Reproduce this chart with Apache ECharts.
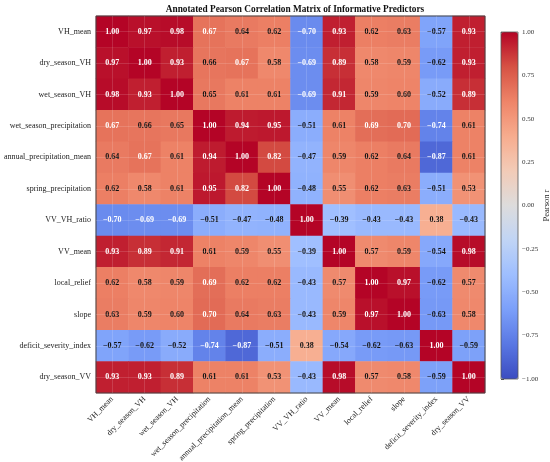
<!DOCTYPE html>
<html>
<head>
<meta charset="utf-8">
<script src="https://cdn.jsdelivr.net/npm/echarts@6/dist/echarts.min.js"></script>
<style>
  html, body { margin: 0; padding: 0; background: #fff; }
  #chart { width: 550px; height: 462px; }
</style>
</head>
<body>
<div id="chart"></div>
<script>
// predictors, same order on both axes
const predictors = [
  'VH_mean', 'dry_season_VH', 'wet_season_VH', 'wet_season_precipitation',
  'annual_precipitation_mean', 'spring_precipitation', 'VV_VH_ratio', 'VV_mean',
  'local_relief', 'slope', 'deficit_severity_index', 'dry_season_VV'
];

// correlation rows
const rVH_mean      = [1.00, 0.97, 0.98, 0.67, 0.64, 0.62, -0.70, 0.93, 0.62, 0.63, -0.57, 0.93];
const rDryVH        = [0.97, 1.00, 0.93, 0.66, 0.67, 0.58, -0.69, 0.89, 0.58, 0.59, -0.62, 0.93];
const rWetVH        = [0.98, 0.93, 1.00, 0.65, 0.61, 0.61, -0.69, 0.91, 0.59, 0.60, -0.52, 0.89];
const rWetPrecip    = [0.67, 0.66, 0.65, 1.00, 0.94, 0.95, -0.51, 0.61, 0.69, 0.70, -0.74, 0.61];
const rAnnualPrecip = [0.64, 0.67, 0.61, 0.94, 1.00, 0.82, -0.47, 0.59, 0.62, 0.64, -0.87, 0.61];
const rSpringPrecip = [0.62, 0.58, 0.61, 0.95, 0.82, 1.00, -0.48, 0.55, 0.62, 0.63, -0.51, 0.53];
const rRatio        = [-0.70, -0.69, -0.69, -0.51, -0.47, -0.48, 1.00, -0.39, -0.43, -0.43, 0.38, -0.43];
const rVV_mean      = [0.93, 0.89, 0.91, 0.61, 0.59, 0.55, -0.39, 1.00, 0.57, 0.59, -0.54, 0.98];
const rRelief       = [0.62, 0.58, 0.59, 0.69, 0.62, 0.62, -0.43, 0.57, 1.00, 0.97, -0.62, 0.57];
const rSlope        = [0.63, 0.59, 0.60, 0.70, 0.64, 0.63, -0.43, 0.59, 0.97, 1.00, -0.63, 0.58];
const rDeficit      = [-0.57, -0.62, -0.52, -0.74, -0.87, -0.51, 0.38, -0.54, -0.62, -0.63, 1.00, -0.59];
const rDryVV        = [0.93, 0.93, 0.89, 0.61, 0.61, 0.53, -0.43, 0.98, 0.57, 0.58, -0.59, 1.00];

const rows = [rVH_mean, rDryVH, rWetVH, rWetPrecip, rAnnualPrecip, rSpringPrecip,
              rRatio, rVV_mean, rRelief, rSlope, rDeficit, rDryVV];

// matplotlib coolwarm
const coolwarm = ['#3b4cc0', '#5977e3', '#7b9ff9', '#9ebeff', '#c0d4f5', '#dddcdc',
                  '#f2cbb7', '#f7ac8e', '#ee8468', '#d65244', '#b40426'];

const SERIF = '"Liberation Serif", "Times New Roman", serif';
const fmt = v => (v < 0 ? '\u2212' : '') + Math.abs(v).toFixed(2);

const cells = [];
rows.forEach((row, i) => {
  row.forEach((v, j) => {
    cells.push({
      value: [j, i, v],
      label: { color: Math.abs(v) > 0.665 ? '#ffffff' : '#111111' }
    });
  });
});

// faint grid lines through the cell centres (matplotlib default grid)
const centreLines = predictors.map(p => ({ xAxis: p }))
  .concat(predictors.map(p => ({ yAxis: p })));

const chart = echarts.init(document.getElementById('chart'));
chart.setOption({
  animation: false,
  backgroundColor: '#fff',
  title: {
    text: 'Annotated Pearson Correlation Matrix of Informative Predictors',
    left: 290, top: 0, textAlign: 'center',
    textStyle: { fontFamily: SERIF, fontSize: 9.3, fontWeight: 'bold', color: '#111' }
  },
  grid: [
    { left: 96, top: 16, width: 389, height: 377, outerBoundsMode: 'none', containLabel: false,
      show: true, borderColor: '#444', borderWidth: 1, z: 5, backgroundColor: 'transparent' },
    { left: 501, top: 32, width: 17, height: 347, outerBoundsMode: 'none', containLabel: false,
      show: true, borderColor: '#555', borderWidth: 0.8, z: 10, backgroundColor: 'transparent' }
  ],
  xAxis: [
    {
      type: 'category', data: predictors, gridIndex: 0,
      axisLine: { show: false },
      axisTick: { alignWithLabel: true, length: 3, lineStyle: { color: '#444' } },
      axisLabel: { rotate: 45, fontFamily: SERIF, fontSize: 8, color: '#222', margin: 5, interval: 0 },
      splitLine: { show: false }
    },
    { type: 'value', gridIndex: 1, show: false, min: 0, max: 1 }
  ],
  yAxis: [
    {
      type: 'category', data: predictors, gridIndex: 0, inverse: true,
      axisLine: { show: false },
      axisTick: { alignWithLabel: true, length: 3, lineStyle: { color: '#444' } },
      axisLabel: { fontFamily: SERIF, fontSize: 8, color: '#222', margin: 5, interval: 0 },
      splitLine: { show: false }
    },
    {
      type: 'value', gridIndex: 1, position: 'right', min: -1, max: 1, interval: 0.25,
      axisLine: { show: false },
      axisTick: { show: true, length: 3, lineStyle: { color: '#555' } },
      axisLabel: { fontFamily: SERIF, fontSize: 7, color: '#333', margin: 4, formatter: fmt },
      splitLine: { show: false },
      name: 'Pearson r', nameLocation: 'middle', nameGap: 17, nameRotate: 90,
      nameTextStyle: { fontFamily: SERIF, fontSize: 8.5, color: '#222' }
    }
  ],
  visualMap: {
    type: 'continuous', min: -1, max: 1, dimension: 2, seriesIndex: 0,
    calculable: false, realtime: false, showLabel: false,
    left: 501, top: 32, padding: 0, itemWidth: 17, itemHeight: 347,
    inRange: { color: coolwarm }
  },
  series: [{
    type: 'heatmap',
    xAxisIndex: 0, yAxisIndex: 0,
    data: cells,
    label: {
      show: true, fontFamily: SERIF, fontSize: 8, fontWeight: 'bold',
      formatter: p => fmt(p.value[2])
    },
    itemStyle: { borderWidth: 0 },
    emphasis: { disabled: true },
    markLine: {
      silent: true, symbol: 'none', animation: false,
      label: { show: false },
      lineStyle: { color: 'rgba(255,255,255,0.18)', width: 0.8, type: 'solid' },
      emphasis: { disabled: true },
      data: centreLines
    }
  }]
});
</script>
</body>
</html>
